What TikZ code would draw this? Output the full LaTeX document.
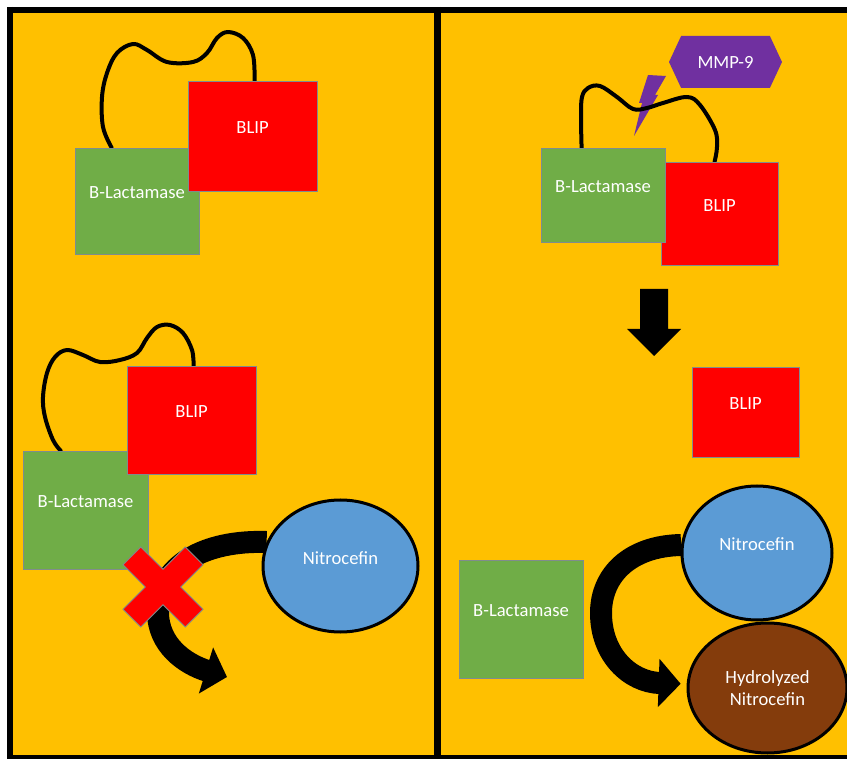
\documentclass[tikz,border=0pt]{standalone}
\usepackage{fontspec}
\setmainfont{Carlito}
\usepackage{tikz}
\usetikzlibrary{shapes.geometric,shapes.symbols,arrows.meta,backgrounds}

\definecolor{panel}{HTML}{FFC000}
\definecolor{lacgreen}{HTML}{70AD47}
\definecolor{blipred}{HTML}{FF0000}
\definecolor{nitroblue}{HTML}{5B9BD5}
\definecolor{mmppurple}{HTML}{7030A0}
\definecolor{hydrobrown}{HTML}{843C0C}
\definecolor{thinedge}{HTML}{7F8C8D}

\newcommand{\lblfont}{\fontsize{9.3}{11}\selectfont}

\begin{document}
\begin{tikzpicture}[
    x=0.5pt, y=-0.5pt,
    box/.style={rectangle, draw=thinedge, line width=0.4pt, inner sep=0pt, text=white, font=\lblfont},
    raised/.style={text height=7pt, text depth=9pt},
    lac/.style={box, raised, fill=lacgreen, minimum width=62pt},
    blip/.style={box, raised, fill=blipred},
    substrate/.style={ellipse, draw=black, line width=1.5pt, inner sep=0pt, text=white, font=\lblfont},
    wire/.style={line width=2pt, line cap=round, line join=round},
    flow/.style={line width=11pt, -{Triangle[length=11pt, width=23.5pt]}},
    frame/.style={line width=3pt}
]
    \useasboundingbox (0,0) rectangle (847,759);
    \begin{scope}[on background layer]
        \fill[white] (0,0) rectangle (847,759);
        \fill[panel] (10,10) rectangle (847,757);
    \end{scope}

    % Frame
    \draw[frame] (7,10) -- (847,10);
    \draw[frame] (10,7) -- (10,759);
    \draw[frame, line width=2pt] (7,757) -- (847,757);
    \draw[frame, line width=3.5pt] (437.5,7) -- (437.5,757);

    % Left panel, inhibited complex
    \node[lac, minimum height=53pt] (lacA) at (137,201) {B-Lactamase};
    \node[blip, minimum width=64.5pt, minimum height=55pt] (blipA) at (252.5,136) {BLIP};

    % Left panel, complex with substrate
    \node[lac, minimum width=62.5pt, minimum height=59pt] (lacB) at (85.5,510) {B-Lactamase};
    \node[blip, minimum width=64.5pt, minimum height=54pt] (blipB) at (191.5,420) {BLIP};
    \node[substrate, raised, fill=nitroblue, minimum width=77.5pt, minimum height=66pt] (nitroA) at (340.5,566) {Nitrocefin};
    \coordinate (miss) at (227,677);

    % Right panel, complex cut by MMP-9
    \node[blip, minimum width=58.5pt, minimum height=51.5pt] (blipC) at (719.5,213.5) {BLIP};
    \node[lac, minimum height=47pt] (lacC) at (603,195) {B-Lactamase};
    \node[signal, signal to=west and east, signal pointer angle=130, fill=mmppurple, inner sep=0pt,
          minimum width=56.5pt, minimum height=26pt, text=white, font=\lblfont] (mmp) at (725.5,62) {MMP-9};

    % Right panel, released enzyme
    \node[blip, minimum width=53.5pt, minimum height=45pt] (blipD) at (745.5,412) {BLIP};
    \node[lac, minimum height=59pt] (lacD) at (521,619) {B-Lactamase};
    \node[substrate, raised, fill=nitroblue, minimum width=75pt, minimum height=67pt] (nitroB) at (757,553) {Nitrocefin};
    \node[substrate, fill=hydrobrown, align=center, minimum width=79.5pt, minimum height=65pt] (hydro) at (767.5,688) {Hydrolyzed\\Nitrocefin};

    \begin{scope}[on background layer]
        % Linkers
        \draw[wire] plot[smooth, tension=0.6] coordinates {([xshift=18.5pt]lacA.north west) (103,127) (102,97) (107,73) (117,53) (133,44) (147,50) (167,62) (193,62) (207,53) (217,38) (228,32) (243,38) (253,55) ([xshift=33.5pt]blipA.north west)};
        \draw[wire] plot[smooth, tension=0.6] coordinates {([xshift=19pt]lacB.north west) (53,440) (45,417) (43,397) (47,373) (55,357) (67,350) (83,355) (100,362) (120,360) (137,353) (147,338) (157,327) (170,325) (183,333) (192,350) ([xshift=33.5pt]blipB.north west)};
        \fill[mmppurple] (648,75) -- (666,76) -- (655,95) -- (658,95) -- (634,136) -- (642,103) -- (639,103) -- cycle;
        \draw[wire] plot[smooth, tension=0.6] coordinates {([xshift=20.5pt]lacC.north west) (581,117) (582,97) (588,88) (600,86) (617,97) (633,109) (647,108) (663,103) (687,97) (700,105) (715,130) (717,147) ([xshift=27pt]blipC.north west)};

        % Reactions
        \draw[flow] (nitroA.162) .. controls (205,540) and (158,565) .. (158,612)
            .. controls (158,645) and (185,664) .. (miss);
        \draw[flow] (nitroB.174) .. controls (630,546) and (601,575) .. (601,613)
            .. controls (601,655) and (630,682) .. ([xshift=-3pt]hydro.177);
    \end{scope}

    % Blocked reaction
    \begin{scope}[shift={(163,587)}]
        \draw[fill=blipred, draw=thinedge, line width=0.4pt]
            (22.3,40) -- (40,22.3) -- (17.7,0) -- (40,-22.3) -- (22.3,-40) -- (0,-17.7)
            -- (-22.3,-40) -- (-40,-22.3) -- (-17.7,0) -- (-40,22.3) -- (-22.3,40) -- (0,17.7) -- cycle;
    \end{scope}

    % Release
    \fill (640,289) -- (668,289) -- (668,329) -- (681,329) -- (654,356) -- (627,329) -- (640,329) -- cycle;
\end{tikzpicture}
\end{document}
